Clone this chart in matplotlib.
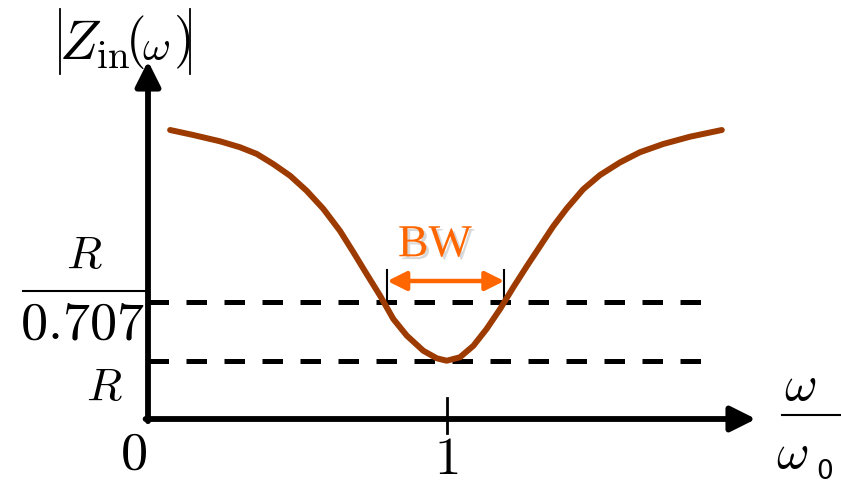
import matplotlib.pyplot as plt
import matplotlib.patheffects as pe

plt.rcParams['mathtext.fontset'] = 'cm'

# |Zin(w)|: x = w/w0, y in units of R
w_ratio = [0.077, 0.154, 0.243, 0.31, 0.366, 0.421, 0.477, 0.532, 0.588, 0.643, 0.688,
           0.732, 0.777, 0.821, 0.866, 0.921, 0.966, 0.999, 1.043, 1.088, 1.132, 1.177,
           1.221, 1.266, 1.31, 1.354, 1.399, 1.454, 1.51, 1.577, 1.643, 1.721, 1.81, 1.916]
z_mag = [2.621, 2.586, 2.542, 2.500, 2.453, 2.382, 2.300, 2.195, 2.067, 1.914, 1.763,
         1.611, 1.458, 1.295, 1.178, 1.072, 1.019, 1.002, 1.026, 1.107, 1.225, 1.365,
         1.517, 1.665, 1.805, 1.945, 2.070, 2.205, 2.305, 2.394, 2.465, 2.523, 2.574, 2.621]

R_level = 1.0
half_power = 1 / 0.707
bw_edges = [0.801, 1.191]


def at(px, py):
    # picture position -> data position (only used for placing labels)
    return (px - 147) / 300, 1 + (362 - py) / 142.5


fig = plt.figure(figsize=(8.41, 4.85), dpi=100)
ax = fig.add_axes([0, 0, 1, 1])
ax.set_xlim(at(0, 0)[0], at(841, 0)[0])
ax.set_ylim(at(0, 485)[1], at(0, 0)[1])
ax.axis('off')

x0, base_y = at(148, 420)

# axes with arrow heads
arrow_kw = dict(arrowstyle='-|>,head_length=0.8,head_width=0.4', lw=4.2, color='black',
                mutation_scale=19, shrinkA=0, shrinkB=0)
ax.annotate('', xy=(at(756, 0)[0], base_y), xytext=(x0 - 0.008, base_y), arrowprops=arrow_kw)
ax.annotate('', xy=(x0, at(0, 62)[1]), xytext=(x0, base_y - 0.015), arrowprops=arrow_kw)

# dashed reference levels
for lev in [R_level, half_power]:
    ax.plot([x0, at(703, 0)[0]], [lev, lev], color='black', lw=3.6, dashes=(4.1, 3.5),
            solid_capstyle='butt')

# the curve
ax.plot(w_ratio, z_mag, color='#9C3A00', lw=4.3, solid_capstyle='round',
        solid_joinstyle='round', zorder=3)

# tick at 1
ax.plot([1, 1], [at(0, 399)[1], at(0, 434)[1]], color='black', lw=2)

# bandwidth marker
for xe in bw_edges:
    ax.plot([xe, xe], [half_power, at(0, 271)[1]], color='black', lw=1.5)
bw_y = at(0, 282)[1]
ax.annotate('', xy=(bw_edges[1], bw_y), xytext=(bw_edges[0], bw_y),
            arrowprops=dict(arrowstyle='<|-|>,head_length=0.6,head_width=0.3', lw=3.2,
                            color='#FF6600', mutation_scale=19, shrinkA=0, shrinkB=0))
ax.text(*at(435, 246), 'BW', color='#FF6600', fontsize=33, family='Liberation Serif',
        ha='center', va='center',
        path_effects=[pe.SimplePatchShadow(offset=(2, -2), shadow_rgbFace='gray', alpha=0.3),
                      pe.Normal()])

# y label |Zin(w)|
ax.plot(*zip(at(60, 10), at(60, 75)), color='black', lw=1.3)
ax.plot(*zip(at(190, 10), at(190, 75)), color='black', lw=1.3)
ax.text(*at(95, 45), r'$Z_{\mathrm{in}}$', fontsize=40, ha='center', va='center')
ax.text(*at(135, 42), r'$($', fontsize=38, ha='center', va='center')
ax.text(*at(156, 48), r'$\omega$', fontsize=31, ha='center', va='center')
ax.text(*at(182, 42), r'$)$', fontsize=38, ha='center', va='center')

# y tick labels
ax.text(*at(84, 256), r'$R$', fontsize=33, ha='center', va='center')
ax.plot(*zip(at(23, 291.5), at(146, 291.5)), color='black', lw=1.5)
ax.text(*at(82, 324), r'$\mathrm{0.707}$', fontsize=39, ha='center', va='center')
ax.text(*at(104, 388), r'$R$', fontsize=33, ha='center', va='center')

# x tick labels
ax.text(*at(133, 454), r'$\mathrm{0}$', fontsize=39, ha='center', va='center')
ax.text(*at(446, 459), r'$\mathrm{1}$', fontsize=38, ha='center', va='center')

# x label w / w0
ax.text(*at(800, 386), r'$\omega$', fontsize=36, ha='center', va='center')
ax.plot(*zip(at(782, 416), at(841, 416)), color='black', lw=1.5)
ax.text(*at(792, 454), r'$\omega$', fontsize=36, ha='center', va='center')
ax.text(*at(825, 472), '0', fontsize=19, family='DejaVu Sans', ha='center', va='center')

plt.savefig('out.png', dpi=100)
